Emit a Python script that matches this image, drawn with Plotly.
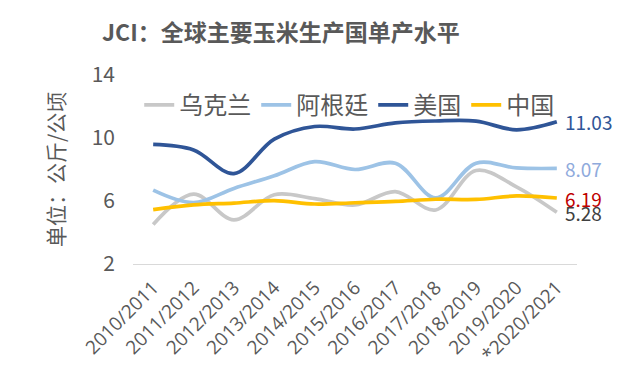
import plotly.graph_objects as go

categories = ["2010/2011", "2011/2012", "2012/2013", "2013/2014", "2014/2015", "2015/2016",
              "2016/2017", "2017/2018", "2018/2019", "2019/2020", "*2020/2021"]
ukraine = [4.51, 6.44, 4.80, 6.40, 6.15, 5.75, 6.60, 5.43, 7.94, 6.90, 5.28]
argentina = [6.69, 5.90, 6.80, 7.60, 8.50, 8.00, 8.40, 6.20, 8.40, 8.10, 8.07]
usa = [9.59, 9.24, 7.74, 9.93, 10.73, 10.57, 10.96, 11.08, 11.07, 10.52, 11.03]
china = [5.45, 5.75, 5.87, 6.02, 5.81, 5.89, 5.97, 6.11, 6.10, 6.32, 6.19]

series_names = ["乌克兰", "阿根廷", "美国", "中国"]
series_values = [ukraine, argentina, usa, china]
line_colors = ["#C8C8C8", "#9DC3E6", "#2F5597", "#FFC000"]
label_colors = ["#404040", "#8FAADC", "#2F5597", "#C00000"]

CJK = "Microsoft YaHei, Noto Sans CJK SC, sans-serif"

fig = go.Figure()
for name, vals, lc, tc in zip(series_names, series_values, line_colors, label_colors):
    fig.add_trace(go.Scatter(
        x=categories, y=vals, name=name, mode="lines",
        line=dict(color=lc, width=3.7, shape="spline", smoothing=1),
        cliponaxis=False,
    ))
    fig.add_annotation(
        x=categories[-1], y=vals[-1], text=f"{vals[-1]:.2f}", showarrow=False,
        xanchor="left", yanchor="middle", xshift=6,
        font=dict(color=tc, size=19, family=CJK),
    )

fig.update_layout(
    width=616, height=371,
    margin=dict(l=125, r=47, t=67, b=112),
    paper_bgcolor="white", plot_bgcolor="white",
    title=dict(text="<b>JCI：全球主要玉米生产国单产水平</b>", x=0.443, xanchor="center",
               y=0.933, yanchor="middle", font=dict(size=23, color="#595959", family=CJK)),
    legend=dict(orientation="h", x=0.014, y=0.84, xanchor="left", yanchor="middle",
                font=dict(size=24, color="#595959", family=CJK), bgcolor="rgba(0,0,0,0)",
                itemwidth=30, tracegroupgap=0),
    showlegend=True,
)
fig.update_xaxes(
    tickangle=-45, showgrid=False, showline=True, linecolor="#D9D9D9", linewidth=1,
    tickfont=dict(size=19, color="#595959", family="Open Sans, sans-serif"),
    ticklabelstandoff=4,
    range=[-0.5, len(categories) - 0.5],
)
fig.update_yaxes(
    range=[2, 14], tickvals=[2, 6, 10, 14], showgrid=False, zeroline=False, showline=False,
    tickfont=dict(size=21, color="#595959", family=CJK),
    ticklabelstandoff=17,
    title=dict(text="单位：公斤/公顷", font=dict(size=21, color="#595959", family=CJK), standoff=21),
)

fig.write_html("out.html")
